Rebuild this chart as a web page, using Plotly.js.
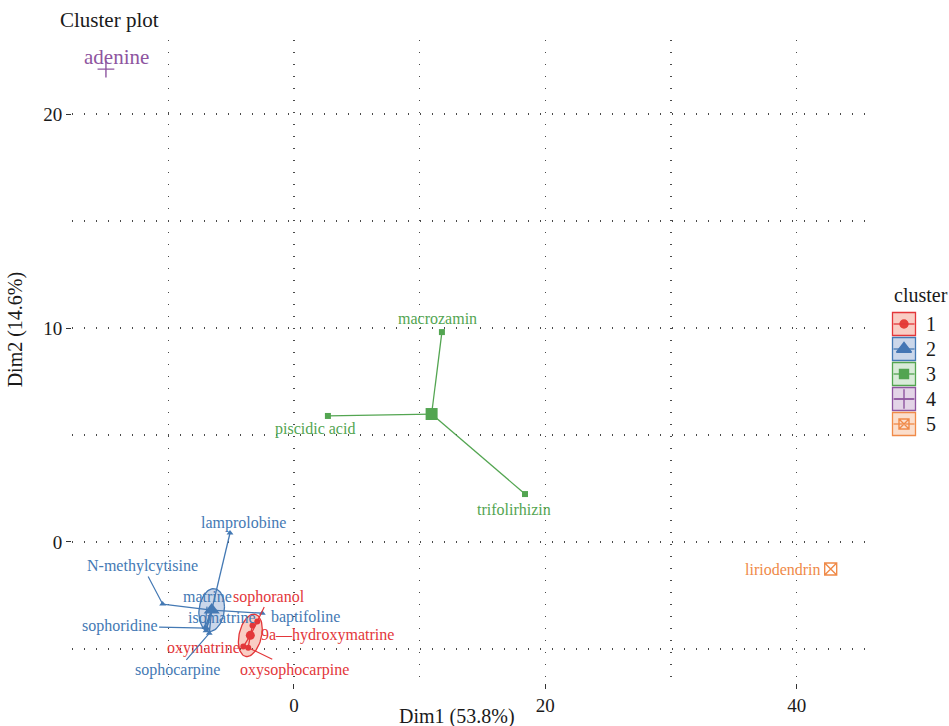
<!DOCTYPE html>
<html>
<head>
<meta charset="utf-8">
<script src="https://cdn.plot.ly/plotly-3.0.1.min.js"></script>
<style>html,body{margin:0;padding:0;background:#fff;}#chart{width:949px;height:726px;}</style>
</head>
<body>
<div id="chart"></div>
<script>
// ---------- data ----------
const clusterIds = ['1', '2', '3', '4', '5'];

const names1 = ['sophoranol', '9a—hydroxymatrine', 'oxymatrine', 'oxysophocarpine'];
const dim1_c1 = [-2.92, -3.3, -4.03, -3.64];
const dim2_c1 = [-3.72, -3.9, -4.89, -4.94];

const names2 = ['lamprolobine', 'N-methylcytisine', 'matrine', 'isomatrine', 'baptifoline', 'sophoridine', 'sophocarpine'];
const dim1_c2 = [-5.09, -10.45, -7.08, -7.0, -2.52, -6.95, -6.74];
const dim2_c2 = [0.42, -2.90, -4.0, -4.15, -3.33, -4.03, -4.27];

const names3 = ['macrozamin', 'piscidic acid', 'trifolirhizin'];
const dim1_c3 = [11.77, 2.70, 18.38];
const dim2_c3 = [9.81, 5.89, 2.24];

const names4 = ['adenine'];
const dim1_c4 = [-14.96];
const dim2_c4 = [22.1];

const names5 = ['liriodendrin'];
const dim1_c5 = [42.7];
const dim2_c5 = [-1.26];

// confidence ellipses (clusters 1 and 2): spread in x, spread in y, correlation
const ellipseSx = [0.95, 1.02];
const ellipseSy = [0.99, 1.0];
const ellipseRho = [0.3, 0.15];

const xTickStep = 20, yTickStep = 10;

// ---------- styling ----------
const FONT = 'Liberation Serif, Times New Roman, serif';
const colors = ['#E3373A', '#4479B4', '#53A551', '#8E55A0', '#F08A48'];
const fills = ['rgba(236,90,60,0.30)', 'rgba(68,110,180,0.28)', 'rgba(83,165,81,0.22)', 'rgba(142,85,160,0.25)', 'rgba(240,138,72,0.28)'];
const symbols = ['circle', 'triangle-up', 'square', 'cross-thin-open', 'square-x-open'];
const legendSymbolSize = [8, 13, 9, 14, 10];

// label placement (pixel offsets from the point); arrow = leader line drawn
const labelPlace = {
  'sophoranol': {dx: 12, dy: 25, arrow: true},
  '9a—hydroxymatrine': {dx: 75, dy: -10, arrow: false},
  'oxymatrine': {dx: -40, dy: -1, arrow: false},
  'oxysophocarpine': {dx: 46, dy: -22, arrow: true},
  'lamprolobine': {dx: 13, dy: 10, arrow: false},
  'N-methylcytisine': {dx: -20, dy: 38, arrow: true},
  'matrine': {dx: 3, dy: 31, arrow: true},
  'isomatrine': {dx: 16, dy: 13, arrow: true},
  'baptifoline': {dx: 43, dy: -4, arrow: false},
  'sophoridine': {dx: -87, dy: 2, arrow: true},
  'sophocarpine': {dx: -32, dy: -37, arrow: true},
  'macrozamin': {dx: -4, dy: 14, arrow: false},
  'piscidic acid': {dx: -13, dy: -13, arrow: false},
  'trifolirhizin': {dx: -11, dy: -15, arrow: false},
  'adenine': {dx: 11, dy: 12, arrow: false, size: 21},
  'liriodendrin': {dx: -48, dy: -1, arrow: false}
};

// legend geometry (pixels inside the legend strip)
const LEG = {titleX: 892, titleY: 295, left: 892.5, top: 312.5, step: 25, box: 23, textX: 924};

const clusters = [
  {names: names1, x: dim1_c1, y: dim2_c1},
  {names: names2, x: dim1_c2, y: dim2_c2},
  {names: names3, x: dim1_c3, y: dim2_c3},
  {names: names4, x: dim1_c4, y: dim2_c4},
  {names: names5, x: dim1_c5, y: dim2_c5}
];

const mean = a => a.reduce((s, v) => s + v, 0) / a.length;

const traces = [];
const annotations = [];
const shapes = [];

// ellipses
[0, 1].forEach(k => {
  const c = clusters[k];
  const cx = mean(c.x), cy = mean(c.y);
  const sx = ellipseSx[k], sy = ellipseSy[k], r = ellipseRho[k];
  const ex = [], ey = [];
  for (let i = 0; i <= 72; i++) {
    const t = 2 * Math.PI * i / 72;
    const u = Math.cos(t), v = Math.sin(t);
    ex.push(cx + sx * u);
    ey.push(cy + sy * (r * u + Math.sqrt(1 - r * r) * v));
  }
  traces.push({x: ex, y: ey, type: 'scatter', mode: 'lines', fill: 'toself',
    fillcolor: fills[k], line: {color: colors[k], width: 1.3}, hoverinfo: 'skip', showlegend: false});
});

// star segments, points, centroids
clusters.forEach((c, k) => {
  const cx = mean(c.x), cy = mean(c.y);
  if (c.x.length > 1) {
    const sxs = [], sys = [];
    c.x.forEach((xv, i) => { sxs.push(cx, xv, null); sys.push(cy, c.y[i], null); });
    traces.push({x: sxs, y: sys, type: 'scatter', mode: 'lines',
      line: {color: colors[k], width: 1.3}, hoverinfo: 'skip', showlegend: false});
  }
  traces.push({x: c.x, y: c.y, text: c.names, type: 'scatter', mode: 'markers', name: 'cluster ' + clusterIds[k],
    marker: {symbol: symbols[k], size: k >= 3 ? 12 : 6, color: colors[k],
      line: {color: colors[k], width: k >= 3 ? 1.4 : 0}}, showlegend: false, hoverinfo: 'text'});
  if (c.x.length > 1) {
    traces.push({x: [cx], y: [cy], type: 'scatter', mode: 'markers',
      marker: {symbol: symbols[k], size: k === 0 ? 9 : (k === 1 ? 14 : 12), color: colors[k]}, showlegend: false, hoverinfo: 'skip'});
  }
  c.names.forEach((n, i) => {
    const p = labelPlace[n];
    const a = {x: c.x[i], y: c.y[i], xref: 'x', yref: 'y', text: n,
      font: {family: FONT, size: p.size || 16, color: colors[k]}};
    if (p.arrow) {
      Object.assign(a, {showarrow: true, ax: p.dx, ay: -p.dy, arrowhead: 0, arrowwidth: 1.2,
        arrowcolor: colors[k], standoff: 0, startstandoff: 0});
    } else {
      Object.assign(a, {showarrow: false, xshift: p.dx, yshift: p.dy});
    }
    annotations.push(a);
  });
});

// legend (drawn in a pixel-scaled helper axis on the right)
annotations.push({xref: 'x2', yref: 'y2', x: LEG.titleX, y: LEG.titleY, xanchor: 'left', yanchor: 'middle',
  text: 'cluster', showarrow: false, font: {family: FONT, size: 20, color: '#1a1a1a'}});
const legX = [], legY = [];
clusterIds.forEach((id, k) => {
  const y0 = LEG.top + k * LEG.step, y1 = y0 + LEG.box, ym = (y0 + y1) / 2;
  const x0 = LEG.left, x1 = LEG.left + LEG.box, xm = (x0 + x1) / 2;
  shapes.push({type: 'rect', xref: 'x2', yref: 'y2', x0: x0, x1: x1, y0: y0, y1: y1,
    fillcolor: fills[k], line: {color: colors[k], width: 1.3}});
  shapes.push({type: 'line', xref: 'x2', yref: 'y2', x0: x0 + 1, x1: x1 - 1, y0: ym, y1: ym,
    line: {color: colors[k], width: 1.3}});
  traces.push({x: [xm], y: [ym], xaxis: 'x2', yaxis: 'y2', type: 'scatter', mode: 'markers',
    marker: {symbol: symbols[k], size: legendSymbolSize[k], color: colors[k], line: {color: colors[k], width: 1.4}},
    showlegend: false, hoverinfo: 'skip'});
  annotations.push({xref: 'x2', yref: 'y2', x: LEG.textX, y: ym, xanchor: 'left', yanchor: 'middle',
    text: id, showarrow: false, font: {family: FONT, size: 20, color: '#1a1a1a'}});
});

// axis titles
annotations.push({xref: 'paper', yref: 'paper', x: (457 - 72) / 877, y: -0.052, xanchor: 'center', yanchor: 'middle',
  text: 'Dim1 (53.8%)', showarrow: false, font: {family: FONT, size: 20, color: '#1a1a1a'}});
annotations.push({xref: 'paper', yref: 'paper', x: -57 / 877, y: 0.55, xanchor: 'center', yanchor: 'middle',
  text: 'Dim2 (14.6%)', textangle: -90, showarrow: false, font: {family: FONT, size: 20, color: '#1a1a1a'}});

const gridDash = '1.3px,10.7px';
const gridColor = '#4a4a4a';
const axisCommon = {
  showline: false, zeroline: false, ticks: 'outside', ticklen: 5, tickwidth: 1, tickcolor: '#333',
  showgrid: true, gridcolor: gridColor, gridwidth: 1.2, griddash: gridDash,
  tickfont: {family: FONT, size: 19, color: '#1a1a1a'}
};
const mainEnd = (865 - 72) / 877;

const layout = {
  width: 949, height: 726,
  margin: {l: 72, r: 0, t: 40, b: 43},
  paper_bgcolor: '#fff', plot_bgcolor: 'rgba(0,0,0,0)',
  title: {text: 'Cluster plot', xref: 'container', yref: 'container', x: 60 / 949, xanchor: 'left',
    y: 1 - 20 / 726, yanchor: 'middle', font: {family: FONT, size: 21, color: '#1a1a1a'}},
  xaxis: Object.assign({}, axisCommon, {domain: [0, mainEnd], range: [-17.66, 45.43], tick0: 0, dtick: xTickStep,
    minor: {dtick: xTickStep / 2, showgrid: true, gridcolor: gridColor, gridwidth: 1.2, griddash: gridDash, ticks: ''}}),
  yaxis: Object.assign({}, axisCommon, {range: [-6.59, 23.46], tick0: 0, dtick: yTickStep,
    minor: {dtick: yTickStep / 2, showgrid: true, gridcolor: gridColor, gridwidth: 1.2, griddash: gridDash, ticks: ''}}),
  xaxis2: {domain: [mainEnd, 1], range: [865, 949], visible: false, fixedrange: true},
  yaxis2: {domain: [0, 1], range: [683, 40], anchor: 'x2', visible: false, fixedrange: true},
  showlegend: false,
  shapes: shapes,
  annotations: annotations
};

Plotly.newPlot('chart', traces, layout, {displayModeBar: false, staticPlot: true});
</script>
</body>
</html>
